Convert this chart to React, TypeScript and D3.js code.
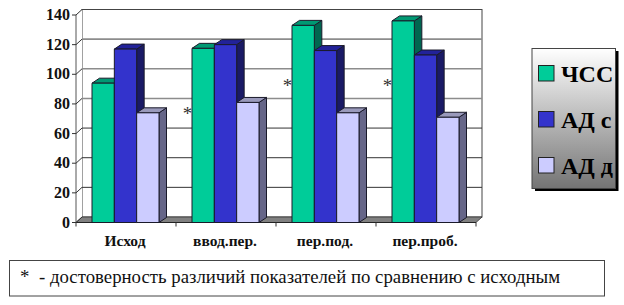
import * as d3 from 'd3';

const categories = ['Исход', 'ввод.пер.', 'пер.под.', 'пер.проб.'];
const seriesNames = ['ЧСС', 'АД с', 'АД д'];
const hr = [94, 117.5, 133, 136];
const sysBp = [117, 120, 116, 113];
const diaBp = [74, 81, 74, 71];
const yTicks = [0, 20, 40, 60, 80, 100, 120, 140];
// asterisks: which category, and the height they sit at on the y axis
const markCategory = [1, 2, 3];
const markValue = [73.5, 92, 92];
const noteText = '-  достоверность различий показателей по сравнению с исходным';

const series = [hr, sysBp, diaBp];
const fronts = ['#00cc99', '#3333cc', '#ccccff'];
const tops = ['#009973', '#222299', '#9999bb'];
const sides = ['#006650', '#1a1a66', '#666688'];

const left = 76, right = 476, bottom = 222.5, top = 15;
const depthX = 6, depthY = 5.5;
const barDepthX = 7.5, barDepthY = 5;
const serif = '"Liberation Serif", serif';

const x = d3.scaleBand().domain(categories).range([left, right]);
const y = d3.scaleLinear().domain([0, 140]).range([bottom, top]);
const inner = d3.scaleBand().domain(seriesNames).range([16, 83]);

export default function App() {
  return (
    <svg width={624} height={305} style={{ position: 'absolute', left: 0, top: 0, background: '#fff' }}>
      <defs>
        <linearGradient id="legendFill" x1="0" y1="0" x2="0" y2="1">
          <stop offset="0" stopColor="#ffffff" />
          <stop offset="1" stopColor="#747474" />
        </linearGradient>
      </defs>

      {/* walls */}
      <rect x={left + depthX} y={top - depthY} width={right - left} height={bottom - top} fill="#fff" stroke="#444" />
      <polygon
        points={`${left},${top} ${left + depthX},${top - depthY} ${left + depthX},${bottom - depthY} ${left},${bottom}`}
        fill="#fff"
      />

      {/* grid lines */}
      {yTicks.filter(t => t > 0 && t < 140).map(t => (
        <line
          key={t}
          x1={left + depthX}
          x2={right + depthX}
          y1={y(t) - depthY}
          y2={y(t) - depthY}
          stroke={t >= 80 ? '#8c8c8c' : '#333'}
          strokeWidth={t >= 80 ? 1.6 : 1}
        />
      ))}

      {/* floor */}
      <polygon
        points={`${left},${bottom} ${left + depthX},${bottom - depthY} ${right + depthX},${bottom - depthY} ${right},${bottom}`}
        fill="#808080"
        stroke="#333"
        strokeWidth={0.8}
      />

      {/* axes */}
      <line x1={left} x2={left} y1={top} y2={bottom} stroke="#555" />
      <line x1={left} x2={right} y1={bottom} y2={bottom} stroke="#222" />
      {yTicks.map(t => (
        <g key={t}>
          <line x1={left - 4} x2={left} y1={y(t)} y2={y(t)} stroke="#333" />
          <line x1={left} x2={left + depthX} y1={y(t)} y2={y(t) - depthY} stroke="#333" />
          <text x={70} y={y(t) + 5} textAnchor="end" fontFamily={serif} fontWeight="bold" fontSize={16} fill="#111">
            {t}
          </text>
        </g>
      ))}
      {[...categories.map(c => x(c) as number), right].map(p => (
        <line key={p} x1={p} x2={p} y1={bottom} y2={bottom + 4} stroke="#333" />
      ))}

      {/* bars */}
      {categories.map((c, ci) => (
        <g key={c}>
          {seriesNames.map((s, si) => {
            const bx = (x(c) as number) + (inner(s) as number);
            const w = inner.bandwidth();
            const by = y(series[si][ci]);
            return (
              <g key={s} stroke="#1a1a2a" strokeWidth={1} strokeLinejoin="round">
                <polygon
                  points={`${bx + w},${by} ${bx + w + barDepthX},${by - barDepthY} ${bx + w + barDepthX},${bottom - barDepthY} ${bx + w},${bottom}`}
                  fill={sides[si]}
                />
                <polygon
                  points={`${bx},${by} ${bx + barDepthX},${by - barDepthY} ${bx + w + barDepthX},${by - barDepthY} ${bx + w},${by}`}
                  fill={tops[si]}
                />
                <rect x={bx} y={by} width={w} height={bottom - by} fill={fronts[si]} />
              </g>
            );
          })}
          <text
            x={(x(c) as number) + x.bandwidth() / 2 - 1}
            y={246}
            textAnchor="middle"
            fontFamily={serif}
            fontWeight="bold"
            fontSize={15.5}
            fill="#111"
          >
            {c}
          </text>
        </g>
      ))}

      {/* significance marks */}
      {markCategory.map((ci, i) => (
        <text
          key={ci}
          x={(x(categories[ci]) as number) + 11.5}
          y={y(markValue[i]) + 6}
          textAnchor="middle"
          fontFamily={serif}
          fontSize={19}
          fill="#333"
        >
          *
        </text>
      ))}

      {/* legend */}
      <rect x={535} y={51} width={83.5} height={140} fill="#000" />
      <rect x={532} y={48.5} width={83.5} height={140} fill="url(#legendFill)" stroke="#444" />
      {seriesNames.map((s, i) => (
        <g key={s}>
          <rect x={538.5} y={65.5 + i * 46} width={15.5} height={15.5} fill={fronts[i]} stroke="#222" />
          <text x={561} y={82 + i * 46} fontFamily={serif} fontWeight="bold" fontSize={24} fill="#000">
            {s}
          </text>
        </g>
      ))}

      {/* note */}
      <rect x={9.5} y={260.5} width={595} height={35.5} fill="#fff" stroke="#444" />
      <text x={20} y={283} fontFamily={serif} fontSize={18.8} fill="#111">
        *
      </text>
      <text x={39} y={283} fontFamily={serif} fontSize={18.8} fill="#111">
        {noteText}
      </text>
    </svg>
  );
}
